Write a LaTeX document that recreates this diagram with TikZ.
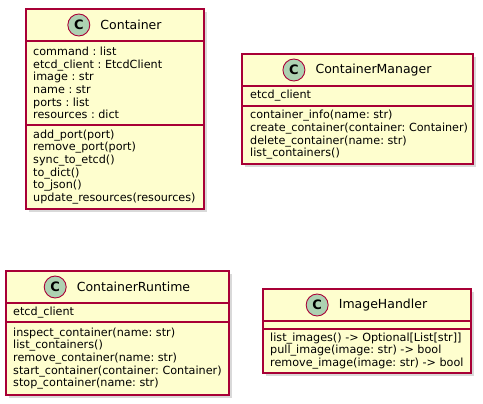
\documentclass[tikz,border=0pt]{standalone}
\usepackage{fontspec}
\setmainfont{DejaVu Sans}
\frenchspacing
\usetikzlibrary{positioning,shadows}

\begin{document}
\begin{tikzpicture}[x=1pt,y=-1pt]
    % Define colors
    \definecolor{classbg}{HTML}{FEFECE}
    \definecolor{classline}{HTML}{A80036}
    \definecolor{badgebg}{HTML}{ADD1B2}

    % Define styles
    \tikzstyle{part} = [rectangle, draw=classline, fill=classbg, line width=1.1pt, anchor=north west, inner sep=0pt, outer sep=0pt, drop shadow={shadow xshift=3pt, shadow yshift=-3pt, opacity=0.3}]
    \tikzstyle{members} = [inner sep=0pt, align=left, font=\fontsize{11.2}{12.7}\selectfont]
    \tikzstyle{title} = [inner sep=0pt, font=\fontsize{12.5}{15}\selectfont]
    \tikzstyle{badge} = [circle, draw=classline, fill=badgebg, line width=0.9pt, minimum size=22pt, inner sep=0pt, font=\fontsize{13}{15}\selectfont\bfseries]

    \useasboundingbox (0,0) rectangle (483,404);

    % Container
    \node[part, minimum width=178pt, minimum height=32pt] (container_head) at (26,9) {};
    \node[part, minimum width=178pt, minimum height=84pt] (container_attrs) at (container_head.south west) {};
    \node[part, minimum width=178pt, minimum height=84pt] (container_ops) at (container_attrs.south west) {};
    \node[title, xshift=16pt] (container_title) at (container_head.center) {Container};
    \node[badge, left=10pt of container_title] (container_badge) {C};
    \node[members, right=7pt of container_attrs.west] (container_fields) {command : list\\etcd\_client : EtcdClient\\image : str\\name : str\\ports : list\\resources : dict};
    \node[members, right=7pt of container_ops.west] (container_methods) {add\_port(port)\\remove\_port(port)\\sync\_to\_etcd()\\to\_dict()\\to\_json()\\update\_resources(resources)};

    % ContainerManager
    \node[part, minimum width=231pt, minimum height=32pt] (manager_head) at (242,54) {};
    \node[part, minimum width=231pt, minimum height=20pt] (manager_attrs) at (manager_head.south west) {};
    \node[part, minimum width=231pt, minimum height=58pt] (manager_ops) at (manager_attrs.south west) {};
    \node[title, xshift=16pt] (manager_title) at (manager_head.center) {ContainerManager};
    \node[badge, left=10pt of manager_title] (manager_badge) {C};
    \node[members, right=8pt of manager_attrs.west] (manager_fields) {etcd\_client};
    \node[members, right=8pt of manager_ops.west] (manager_methods) {container\_info(name: str)\\create\_container(container: Container)\\delete\_container(name: str)\\list\_containers()};

    % ContainerRuntime
    \node[part, minimum width=223pt, minimum height=32pt] (runtime_head) at (6,271) {};
    \node[part, minimum width=223pt, minimum height=19pt] (runtime_attrs) at (runtime_head.south west) {};
    \node[part, minimum width=223pt, minimum height=73pt] (runtime_ops) at (runtime_attrs.south west) {};
    \node[title, xshift=16pt] (runtime_title) at (runtime_head.center) {ContainerRuntime};
    \node[badge, left=10pt of runtime_title] (runtime_badge) {C};
    \node[members, right=7pt of runtime_attrs.west] (runtime_fields) {etcd\_client};
    \node[members, right=7pt of runtime_ops.west] (runtime_methods) {inspect\_container(name: str)\\list\_containers()\\remove\_container(name: str)\\start\_container(container: Container)\\stop\_container(name: str)};

    % ImageHandler
    \node[part, minimum width=208pt, minimum height=32pt] (images_head) at (263,289) {};
    \node[part, minimum width=208pt, minimum height=8pt] (images_attrs) at (images_head.south west) {};
    \node[part, minimum width=208pt, minimum height=44pt] (images_ops) at (images_attrs.south west) {};
    \node[title, xshift=16pt] (images_title) at (images_head.center) {ImageHandler};
    \node[badge, left=10pt of images_title] (images_badge) {C};
    \node[members, right=7pt of images_ops.west] (images_methods) {list\_images() -> Optional[List[str]]\\pull\_image(image: str) -> bool\\remove\_image(image: str) -> bool};
\end{tikzpicture}
\end{document}
